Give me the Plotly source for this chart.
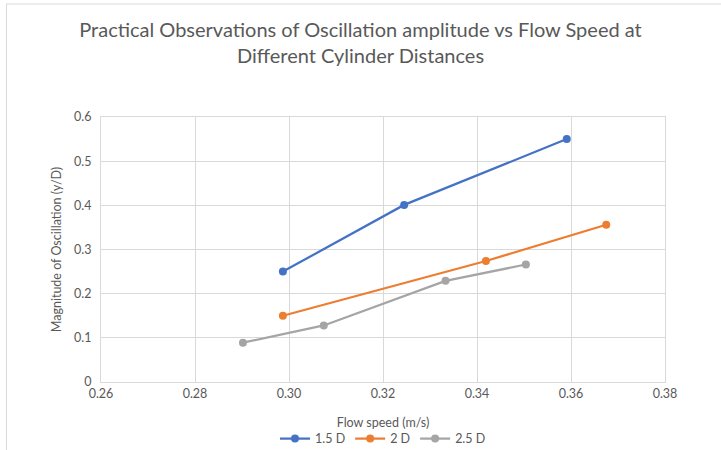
import plotly.graph_objects as go

series_names = ["1.5 D", "2 D", "2.5 D"]
x_15 = [0.2987, 0.3245, 0.3591]
y_15 = [0.250, 0.401, 0.550]
x_20 = [0.2987, 0.3419, 0.3675]
y_20 = [0.150, 0.274, 0.356]
x_25 = [0.2902, 0.3074, 0.3333, 0.3504]
y_25 = [0.089, 0.128, 0.229, 0.266]
colors = ["#4472C4", "#ED7D31", "#A5A5A5"]
x_ticks = [0.26, 0.28, 0.30, 0.32, 0.34, 0.36, 0.38]
x_tick_labels = ["0.26", "0.28", "0.30", "0.32", "0.34", "0.36", "0.38"]
y_ticks = [0, 0.1, 0.2, 0.3, 0.4, 0.5, 0.6]
y_tick_labels = ["0", "0.1", "0.2", "0.3", "0.4", "0.5", "0.6"]

FONT = "Lato"
fig = go.Figure()
for name, xs, ys, c in zip(series_names, [x_15, x_20, x_25], [y_15, y_20, y_25], colors):
    fig.add_trace(go.Scatter(x=xs, y=ys, name=name, mode="lines+markers",
                             line=dict(color=c, width=2.25),
                             marker=dict(color=c, size=8)))

fig.update_layout(
    width=721, height=450,
    margin=dict(l=101, r=56, t=117, b=68, autoexpand=False),
    paper_bgcolor="white", plot_bgcolor="white",
    font=dict(family=FONT, color="#595959", size=12.5),
    title=dict(text="Practical Observations of Oscillation amplitude vs Flow Speed at<br>Different Cylinder Distances",
               x=0.5, xanchor="center", y=0.918, yanchor="top",
               font=dict(family=FONT, size=20, color="#595959")),
    showlegend=True,
    legend=dict(orientation="h", x=0.5, xanchor="center", y=-0.215, yanchor="middle",
                font=dict(size=12.5, color="#595959"), itemwidth=30, tracegroupgap=0,
                bgcolor="rgba(0,0,0,0)"),
    xaxis=dict(range=[0.26, 0.38], tickvals=x_ticks, ticktext=x_tick_labels,
               showgrid=True, gridcolor="#D9D9D9", gridwidth=1,
               zeroline=False, showline=True, linecolor="#D9D9D9", linewidth=1,
               mirror=True, ticks="", title=dict(text="Flow speed (m/s)", standoff=18,
                                                font=dict(size=12.5))),
    yaxis=dict(range=[0, 0.6], tickvals=y_ticks, ticktext=y_tick_labels,
               showgrid=True, gridcolor="#D9D9D9", gridwidth=1,
               zeroline=False, showline=True, linecolor="#D9D9D9", linewidth=1,
               mirror=True, ticks="", ticklabelstandoff=6,
               title=dict(text="Magnitude of Oscillation (y/D)", standoff=9,
                          font=dict(size=12.5))),
    shapes=[dict(type="rect", xref="paper", yref="paper",
                 x0=(6.5 - 101) / 564, x1=1.2, y0=-0.5, y1=1 + (117 - 4) / 265,
                 line=dict(color="#D9D9D9", width=1), fillcolor="rgba(0,0,0,0)",
                 layer="below")],
)
fig.write_html("out.html")
